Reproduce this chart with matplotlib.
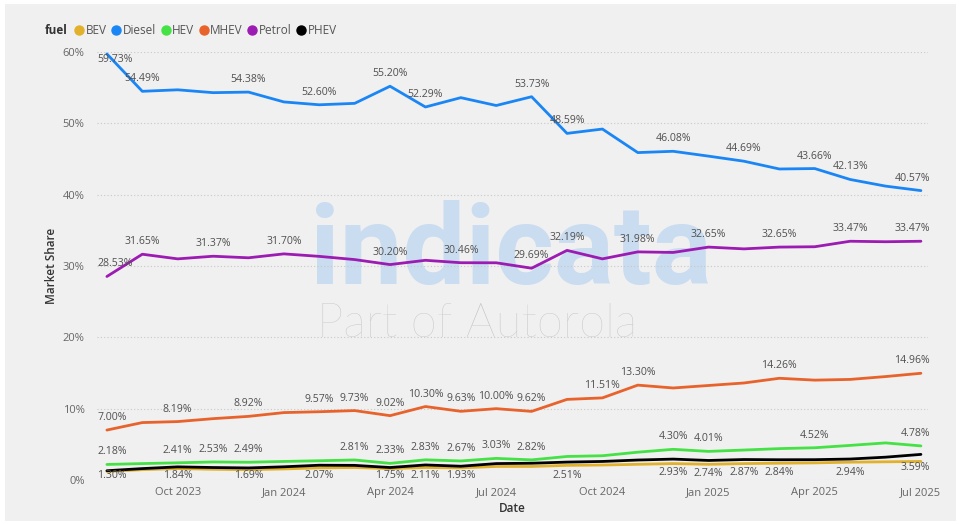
import matplotlib
matplotlib.use("Agg")
import matplotlib.pyplot as plt
from matplotlib.patches import Rectangle
from matplotlib.lines import Line2D

plt.rcParams['font.family'] = ['Open Sans', 'DejaVu Sans']

months = ["Aug 2023", "Sep 2023", "Oct 2023", "Nov 2023", "Dec 2023", "Jan 2024",
          "Feb 2024", "Mar 2024", "Apr 2024", "May 2024", "Jun 2024", "Jul 2024",
          "Aug 2024", "Sep 2024", "Oct 2024", "Nov 2024", "Dec 2024", "Jan 2025",
          "Feb 2025", "Mar 2025", "Apr 2025", "May 2025", "Jun 2025", "Jul 2025"]
tick_months = ["Oct 2023", "Jan 2024", "Apr 2024", "Jul 2024",
               "Oct 2024", "Jan 2025", "Apr 2025", "Jul 2025"]

bev = [1.2, 1.45, 1.6, 1.5, 1.45, 1.55, 1.7, 1.75, 1.6, 1.75, 1.7, 1.9,
       1.9, 2.05, 2.1, 2.2, 2.3, 2.2, 2.3, 2.35, 2.4, 2.5, 2.55, 2.6]
diesel = [59.73, 54.49, 54.7, 54.3, 54.38, 53.0, 52.60, 52.8, 55.20, 52.29, 53.6, 52.5,
          53.73, 48.59, 49.2, 45.9, 46.08, 45.4, 44.69, 43.6, 43.66, 42.13, 41.2, 40.57]
hev = [2.18, 2.3, 2.41, 2.53, 2.49, 2.6, 2.7, 2.81, 2.33, 2.83, 2.67, 3.03,
       2.82, 3.3, 3.4, 3.9, 4.30, 4.01, 4.2, 4.4, 4.52, 4.85, 5.2, 4.78]
mhev = [7.00, 8.05, 8.19, 8.6, 8.92, 9.45, 9.57, 9.73, 9.02, 10.30, 9.63, 10.00,
        9.62, 11.3, 11.51, 13.30, 12.9, 13.25, 13.6, 14.26, 14.0, 14.1, 14.5, 14.96]
petrol = [28.53, 31.65, 31.0, 31.37, 31.15, 31.70, 31.35, 30.9, 30.20, 30.8, 30.46, 30.45,
          29.69, 32.19, 31.0, 31.98, 31.9, 32.65, 32.4, 32.65, 32.7, 33.47, 33.4, 33.47]
phev = [1.30, 1.6, 1.84, 1.75, 1.69, 1.85, 2.07, 2.05, 1.75, 2.11, 1.93, 2.3,
        2.35, 2.51, 2.6, 2.8, 2.93, 2.74, 2.87, 2.84, 2.85, 2.94, 3.2, 3.59]

# which points carry a data label (others hidden like in the original)
diesel_lbl = [0, 1, 4, 6, 8, 9, 12, 13, 16, 18, 20, 21, 23]
petrol_lbl = [0, 1, 3, 5, 8, 10, 12, 13, 15, 17, 19, 21, 23]
mhev_lbl = [0, 2, 4, 6, 7, 8, 9, 10, 11, 12, 14, 15, 19, 23]
hev_lbl = [0, 2, 3, 4, 7, 8, 9, 10, 11, 12, 16, 17, 20, 23]
phev_lbl = [0, 2, 4, 6, 8, 9, 10, 13, 16, 17, 18, 19, 21, 23]

series = [
    ("BEV", bev, "#e1b12c", [], 1),
    ("Diesel", diesel, "#1a86f5", diesel_lbl, 1),
    ("HEV", hev, "#44e244", hev_lbl, 1),
    ("MHEV", mhev, "#e8622c", mhev_lbl, 1),
    ("Petrol", petrol, "#9c1bb2", petrol_lbl, 1),
    ("PHEV", phev, "#000000", phev_lbl, -1),
]

W, H = 959, 524
fig = plt.figure(figsize=(W / 100, H / 100), dpi=100, facecolor="white")
fig.patches.append(Rectangle((5 / W, 3 / H), 951 / W, 517 / H, transform=fig.transFigure,
                             facecolor="#f0f0f0", edgecolor="none", zorder=-5))

left, right, top, bottom = 97, 928, 52, 480
ax = fig.add_axes([left / W, 1 - bottom / H, (right - left) / W, (bottom - top) / H])
ax.set_facecolor("none")

x = list(range(len(months)))
xmin, xmax = -0.28, 23.2
ax.set_xlim(xmin, xmax)
ax.set_ylim(0, 60)

# watermark
wm1 = fig.text(310 / W, 1 - 284 / H, "indicata", fontsize=80, fontweight="bold",
               color="#cadcf0", ha="left", va="baseline", zorder=-1,
               family=["Roboto", "DejaVu Sans"])
wm2 = fig.text(317 / W, 1 - 337 / H, "Part of Autorola", fontsize=34, fontweight="light",
               color="#c8c8c8", ha="left", va="baseline", zorder=-1,
               family=["Lato", "DejaVu Sans"])
r = fig.canvas.get_renderer()
for t, target in ((wm1, 402), (wm2, 320)):
    w = t.get_window_extent(r).width
    t.set_fontsize(t.get_fontsize() * target / w)

px = (bottom - top) / 60.0  # pixels per percent
for name, vals, col, lbl, side in series:
    ax.plot(x, vals, color=col, lw=2.0, solid_capstyle="round", zorder=3)
    for i in lbl:
        if side > 0:
            yl = vals[i] + 12.5 / px
            yl = min(yl, 59.0)
        else:
            yl = vals[i] - 13 / px
            yl = max(yl, 0.65)
        ha = "center"
        xl = i
        if i == 0:
            ha, xl = "left", xmin
        elif i == len(x) - 1:
            ha, xl = "right", xmax + 0.05
        ax.text(xl, yl, f"{vals[i]:.2f}%", ha=ha, va="center", fontsize=7.6,
                color="#505050", zorder=4)

ax.set_yticks([0, 10, 20, 30, 40, 50, 60])
ax.set_yticklabels([f"{v}%" for v in [0, 10, 20, 30, 40, 50, 60]])
ax.set_xticks([months.index(m) for m in tick_months])
ax.set_xticklabels(tick_months)
ax.tick_params(axis="both", length=0, labelsize=8, labelcolor="#666666")
ax.tick_params(axis="y", pad=9)
ax.tick_params(axis="x", pad=5)
ax.grid(axis="y", color="#c8c8c8", linestyle=(0, (1, 2)), linewidth=0.8)
ax.set_axisbelow(True)
for s in ax.spines.values():
    s.set_visible(False)

ax.set_xlabel("Date", fontsize=8.5, color="#333333", fontweight="semibold", labelpad=3)
ax.set_ylabel("Market Share", fontsize=8.5, color="#333333", fontweight="semibold", labelpad=3)

# legend drawn by hand along the top
ly = 1 - 30 / H
t = fig.text(45 / W, ly, "fuel", fontsize=8.5, fontweight="bold", color="#333333",
             ha="left", va="center")
xc = t.get_window_extent(r).x1 + 7
for name, vals, col, lbl, side in series:
    fig.add_artist(Line2D([(xc + 4.5) / W], [ly], marker="o", markersize=6.5, color=col,
                          transform=fig.transFigure, linestyle="none"))
    tt = fig.text((xc + 11) / W, ly, name, fontsize=8.5, color="#555555",
                  ha="left", va="center")
    xc = tt.get_window_extent(r).x1 + 5

fig.savefig("out.png", dpi=100, facecolor=fig.get_facecolor())
